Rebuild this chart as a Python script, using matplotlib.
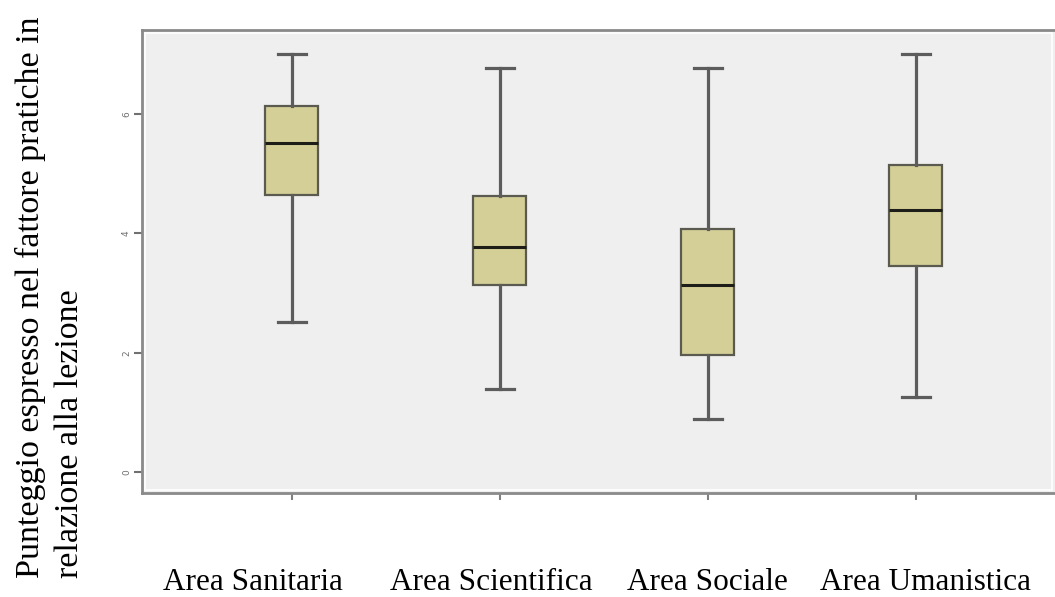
import matplotlib
matplotlib.use("Agg")
import matplotlib.pyplot as plt
from matplotlib.patches import Rectangle

# values
categories = ["Area Sanitaria", "Area Scientifica", "Area Sociale", "Area Umanistica"]
whisker_low = [2.51, 1.39, 0.89, 1.26]
q1 = [4.64, 3.13, 1.96, 3.46]
median = [5.52, 3.77, 3.13, 4.39]
q3 = [6.13, 4.63, 4.07, 5.14]
whisker_high = [7.0, 6.77, 6.77, 7.0]
yticks = [0, 2, 4, 6]

# label centres in figure pixels (the labels are not centred on the ticks)
label_x = [253, 491, 707, 925]

W, H = 1055, 597
fig = plt.figure(figsize=(W / 100, H / 100), dpi=100)
ax = fig.add_axes([142 / W, (H - 493) / H, 1 - 142 / W, (493 - 30) / H])
ax.set_facecolor("#efefef")

stats = []
for i, cat in enumerate(categories):
	stats.append({"label": cat, "whislo": whisker_low[i], "q1": q1[i], "med": median[i],
		"q3": q3[i], "whishi": whisker_high[i], "fliers": []})

ax.bxp(stats, positions=range(len(categories)), widths=0.255, capwidths=0.135,
	patch_artist=True, showfliers=False,
	boxprops=dict(facecolor="#d4cf97", edgecolor="#5a5a50", linewidth=1.6),
	medianprops=dict(color="#1e1e18", linewidth=2.2),
	whiskerprops=dict(color="#5c5c5c", linewidth=2.3),
	capprops=dict(color="#5c5c5c", linewidth=2.3))

ax.set_xlim(-0.72, 3.67)
ax.set_ylim(-0.35, 7.41)

# thin white inner border of the plot area
ax.add_patch(Rectangle((0.003, 0.006), 0.994, 0.988, transform=ax.transAxes,
	fill=False, edgecolor="white", linewidth=1.2, zorder=0.5))

ax.spines["right"].set_visible(False)
for side in ["left", "top", "bottom"]:
	ax.spines[side].set_color("#8a8a8a")
	ax.spines[side].set_linewidth(2)

ax.set_yticks(yticks)
ax.set_yticklabels([str(v) for v in yticks], rotation=90, va="center",
	fontsize=6.5, color="#707070")
ax.tick_params(axis="y", length=6, width=1.5, color="#707070", pad=2)
ax.set_xticks(range(len(categories)))
ax.set_xticklabels([])
ax.tick_params(axis="x", length=5, width=1.5, color="#808080")

for i, cat in enumerate(categories):
	fig.text(label_x[i] / W, 1 - 582 / H, cat, ha="center", va="center",
		fontsize=22.5, family="Liberation Serif")

fig.text(50 / W, 1 - 578 / H,
	"Punteggio espresso nel fattore pratiche in\nrelazione alla lezione",
	rotation=90, ha="center", va="bottom", multialignment="left",
	fontsize=24.5, family="Liberation Serif", linespacing=1.35)

fig.savefig("out.png", dpi=100)
